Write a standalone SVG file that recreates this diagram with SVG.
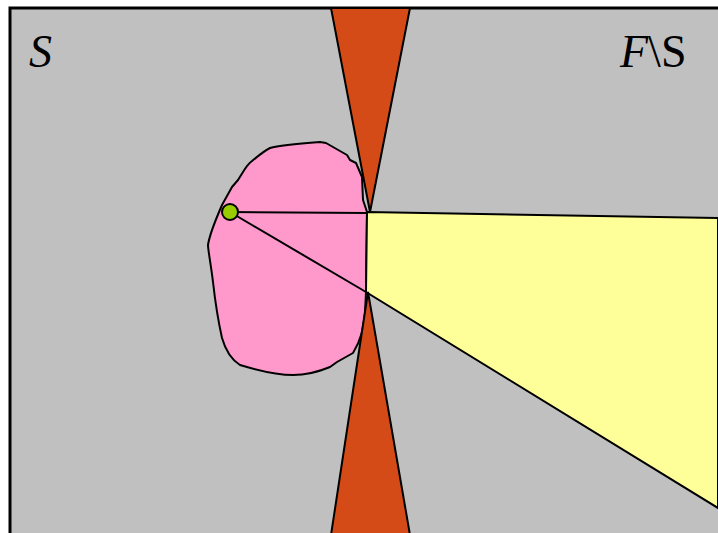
<svg xmlns="http://www.w3.org/2000/svg" width="718" height="533" viewBox="0 0 718 533">
<style>
.ln{stroke:#000;stroke-width:2;stroke-linejoin:round;fill:none}
.wedge{fill:#d54b17;stroke:#000;stroke-width:2;stroke-linejoin:miter}
.lbl{font-family:"Liberation Serif",serif;font-size:46px;fill:#000}
</style>
<rect id="field" x="10" y="8" width="720" height="540" fill="#c0c0c0" stroke="#000" stroke-width="3"/>
<g id="blob">
<path d="M367,212 L366,292 L365,313 C363,330 361,340 353,353 L337,362 L330,367 C318,372 305,375 293,375 C280,375 260,371 240,365 C232,360 226,352 222,338 C218,320 215,300 213,282 C211,265 208,250 208,245 C209,238 212,228 222,205 L232,187 L238,180 L243,172 C246,167 248,164 252,161 C258,156 264,151 270,148 C280,145 293,144 320,142 L326,143 L347,155 L350,160 L356,163 L362,177 L363,200 Z" fill="#ff99cc" stroke="#000" stroke-width="2" stroke-linejoin="round"/>
</g>
<g id="cone">
<polygon points="367,212 718,218 718,508 366,292" fill="#ffff99" stroke="#000" stroke-width="2"/>
</g>
<g id="wedge-top"><polygon class="wedge" points="331,8 410,8 370,212"/></g>
<g id="wedge-bottom"><polygon class="wedge" points="368,292 331,535 410,535"/></g>
<g id="connectors">
<line class="ln" x1="230" y1="212" x2="367" y2="213"/>
<line class="ln" x1="230" y1="212" x2="366" y2="292"/>
</g>
<g id="point"><circle cx="230" cy="212" r="8" fill="#99cc00" stroke="#000" stroke-width="2"/></g>
<g id="label-S"><text class="lbl" x="29" y="67" font-style="italic">S</text></g>
<g id="label-FS"><text class="lbl" x="620" y="67"><tspan font-style="italic">F</tspan>\S</text></g>
</svg>
